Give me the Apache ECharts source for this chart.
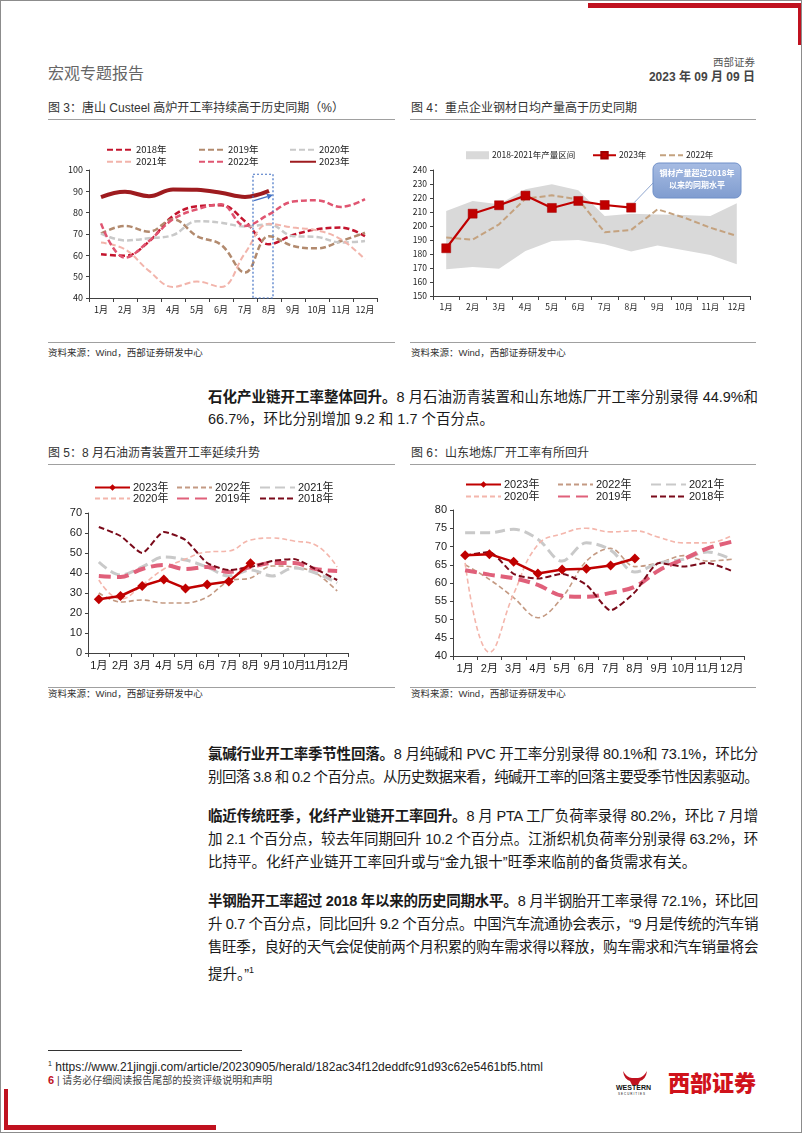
<!DOCTYPE html>
<html><head><meta charset="utf-8">
<script src="https://cdn.jsdelivr.net/npm/echarts@6/dist/echarts.min.js"></script>
<style>
body{margin:0;background:#fff;}
#page{position:relative;width:802px;height:1133px;overflow:hidden;background:#fff;box-sizing:border-box;border:1px solid #8c8c8c;font-family:"Liberation Sans","Noto Sans CJK SC",sans-serif;}
.abs{position:absolute;white-space:nowrap;}
.ct{font-size:12px;color:#333;line-height:14px;}
.rule{position:absolute;height:0;border-top:1px solid #a0a0a0;}
.src{font-size:9.5px;color:#333;line-height:12px;}
.chart{position:absolute;}
.ln{position:absolute;left:207px;width:550px;font-size:14.5px;line-height:23px;color:#1a1a1a;text-align:justify;text-align-last:justify;white-space:normal;}
.ln.last{text-align-last:left;}
.ln b{font-weight:700;}
</style></head>
<body><div id="page">
<!-- header -->
<div class="abs" style="left:587px;top:2px;width:214px;height:5px;background:#c0111f"></div>
<div class="abs" style="left:797px;top:2px;width:4px;height:42px;background:#c0111f"></div>
<div class="abs" style="left:47px;top:63px;font-size:16px;color:#666;line-height:20px;">宏观专题报告</div>
<div class="abs" style="right:46px;top:55px;font-size:10.5px;color:#555;line-height:13px;">西部证券</div>
<div class="abs" style="right:46px;top:69px;font-size:12px;color:#444;font-weight:700;line-height:14px;">2023 年 09 月 09 日</div>

<!-- fig 3 -->
<div class="abs ct" style="left:47px;top:100px;">图 3：唐山 Custeel 高炉开工率持续高于历史同期（%）</div>
<div class="rule" style="left:47px;top:118px;width:347px;"></div>
<div id="c1" class="chart" style="left:40px;top:125px;width:360px;height:215px;"></div>
<div class="rule" style="left:47px;top:341px;width:347px;"></div>
<div class="abs src" style="left:47px;top:346px;">资料来源：Wind，西部证券研发中心</div>

<!-- fig 4 -->
<div class="abs ct" style="left:410px;top:100px;">图 4：重点企业钢材日均产量高于历史同期</div>
<div class="rule" style="left:409px;top:118px;width:346px;"></div>
<div id="c2" class="chart" style="left:400px;top:125px;width:380px;height:215px;"></div>
<div class="rule" style="left:409px;top:341px;width:346px;"></div>
<div class="abs src" style="left:410px;top:346px;">资料来源：Wind，西部证券研发中心</div>

<!-- paragraph 1 -->
<div class="ln" style="top:384.5px;"><b>石化产业链开工率整体回升。</b>8 月石油沥青装置和山东地炼厂开工率分别录得 44.9%和</div>
<div class="ln last" style="top:406.5px;">66.7%，环比分别增加 9.2 和 1.7 个百分点。</div>

<!-- fig 5 -->
<div class="abs ct" style="left:47px;top:445px;">图 5：8 月石油沥青装置开工率延续升势</div>
<div class="rule" style="left:47px;top:463px;width:347px;"></div>
<div id="c3" class="chart" style="left:40px;top:470px;width:360px;height:215px;"></div>
<div class="rule" style="left:47px;top:686px;width:347px;"></div>
<div class="abs src" style="left:47px;top:687px;">资料来源：Wind，西部证券研发中心</div>

<!-- fig 6 -->
<div class="abs ct" style="left:410px;top:445px;">图 6：山东地炼厂开工率有所回升</div>
<div class="rule" style="left:409px;top:463px;width:346px;"></div>
<div id="c4" class="chart" style="left:400px;top:470px;width:380px;height:215px;"></div>
<div class="rule" style="left:409px;top:686px;width:346px;"></div>
<div class="abs src" style="left:410px;top:687px;">资料来源：Wind，西部证券研发中心</div>

<!-- paragraphs -->
<div class="ln" style="top:741.5px;"><b>氯碱行业开工率季节性回落。</b>8 月纯碱和 PVC 开工率分别录得 80.1%和 73.1%，环比分</div>
<div class="ln" style="top:764.5px;">别回落 3.8 和 0.2 个百分点。从历史数据来看，纯碱开工率的回落主要受季节性因素驱动。</div>

<div class="ln" style="top:803.5px;"><b>临近传统旺季，化纤产业链开工率回升。</b>8 月 PTA 工厂负荷率录得 80.2%，环比 7 月增</div>
<div class="ln" style="top:826.5px;">加 2.1 个百分点，较去年同期回升 10.2 个百分点。江浙织机负荷率分别录得 63.2%，环</div>
<div class="ln last" style="top:849.5px;">比持平。化纤产业链开工率回升或与“金九银十”旺季来临前的备货需求有关。</div>

<div class="ln" style="top:888.5px;"><b>半钢胎开工率超过 2018 年以来的历史同期水平。</b>8 月半钢胎开工率录得 72.1%，环比回</div>
<div class="ln" style="top:911.5px;">升 0.7 个百分点，同比回升 9.2 个百分点。中国汽车流通协会表示，“9 月是传统的汽车销</div>
<div class="ln" style="top:934.5px;">售旺季，良好的天气会促使前两个月积累的购车需求得以释放，购车需求和汽车销量将会</div>
<div class="ln last" style="top:957.5px;">提升。”<sup style="font-size:9px;">1</sup></div>

<!-- footer -->
<div class="rule" style="left:47px;top:1049px;width:194px;border-top-color:#333;"></div>
<div class="abs" style="left:47px;top:1056px;font-size:12px;color:#222;line-height:14px;"><sup style="font-size:7px;">1</sup> https://www.21jingji.com/article/20230905/herald/182ac34f12deddfc91d93c62e5461bf5.html</div>
<div class="abs" style="left:47px;top:1073px;font-size:10px;color:#444;line-height:13px;"><span style="color:#c0111f;font-weight:700;font-size:11px;">6</span> | 请务必仔细阅读报告尾部的投资评级说明和声明</div>
<div class="abs" style="left:617px;top:1068px;width:34px;height:26px;">
  <svg width="34" height="26" viewBox="0 0 34 26"><path d="M5 2 Q9 9 14 9 L20 9 Q25 9 29 2 Q28 10 22 12 L20 16 L14 16 L12 12 Q6 10 5 2 Z" fill="#c0111f"/></svg>
</div>
<div class="abs" style="left:615px;top:1083px;font-size:7px;font-weight:700;color:#111;letter-spacing:0px;line-height:8px;">WESTERN</div>
<div class="abs" style="left:617px;top:1091px;font-size:3px;color:#111;letter-spacing:1px;line-height:4px;">SECURITIES</div>
<div class="abs" style="left:667px;top:1068px;font-size:22px;font-weight:900;color:#d0121b;line-height:24px;font-family:'Noto Sans CJK SC';">西部证券</div>
<div class="abs" style="left:3px;top:1088px;width:4px;height:40px;background:#c0111f"></div>
<div class="abs" style="left:3px;top:1124px;width:212px;height:5px;background:#c0111f"></div>
</div>

<script>
// ---------------- data ----------------
const months = ['1月','2月','3月','4月','5月','6月','7月','8月','9月','10月','11月','12月'];

// Fig 3: 唐山 Custeel 高炉开工率 (%)
const f3_2018 = [60.5, 59.8, 66.5, 78.5, 83, 83.5, 76, 65.2, 69.5, 72.2, 73, 69];
const f3_2019 = [70.2, 73.8, 71.1, 76.9, 69, 65, 51.9, 69, 64.4, 63.3, 66.7, 70.6];
const f3_2020 = [70.2, 67, 68, 69.5, 76, 75.3, 73.5, 74.5, 69, 68.6, 66, 66.7];
const f3_2021 = [66, 62.8, 52.7, 45.2, 47.7, 45.2, 61, 74.8, 73, 71.7, 67.5, 58.1];
const f3_2022 = [75, 58.9, 66.7, 76.9, 81.6, 83.9, 73.8, 79.2, 85.2, 85.8, 82.7, 86.3];
const f3_2023 = [87.3, 89.8, 87.7, 90.9, 90.7, 89.3, 87.4, 90.2];

// Fig 4: 重点企业钢材日均产量
const f4_bandLow  = [169.1, 170.7, 169.5, 182.2, 189.3, 190, 186.9, 181.7, 186, 182.6, 179.3, 172.6];
const f4_bandHigh = [210.7, 217.9, 215.5, 226.2, 229.8, 225.5, 207.2, 208.8, 208.3, 207.9, 207.2, 216.2];
const f4_2023 = [184.1, 208.8, 214.8, 221.7, 212.9, 217.9, 215, 213.1];
const f4_2022 = [191.7, 190.3, 201.2, 219.5, 221.9, 219, 195.5, 197.2, 211.9, 206, 198.8, 192.9];

// Fig 5: 石油沥青装置开工率
const f5_2023 = [26.9, 28.5, 33.5, 36.8, 32.3, 34.3, 35.7, 44.9];
const f5_2022 = [30, 25.5, 26.5, 25, 25, 28, 36, 37.5, 43.5, 43, 40, 31];
const f5_2021 = [45.5, 39, 43, 48, 46.5, 43, 38.5, 41.5, 38.5, 42.5, 40, 35];
const f5_2020 = [36.5, 27, 34, 42, 47, 50.5, 51, 56.5, 57.5, 56, 54, 43];
const f5_2019 = [38.5, 38, 42, 44, 42, 43, 40.5, 43, 45, 45, 42, 41];
const f5_2018 = [63, 58.5, 50, 60.5, 56.5, 45, 41.5, 43, 46, 47, 42, 36.5];

// Fig 6: 山东地炼厂开工率
const f6_2023 = [67.6, 67.9, 65.8, 62.6, 63.7, 63.9, 64.8, 66.7];
const f6_2022 = [65, 61, 56, 50.5, 56, 66, 69.5, 64.5, 65.5, 67.5, 66, 66.5];
const f6_2021 = [73.8, 73.8, 74.7, 72, 66, 71, 69, 63, 65.5, 66.5, 68.5, 66.5];
const f6_2020 = [65.5, 41, 57, 70.5, 73.5, 75, 74, 74.3, 72.5, 71, 71, 73];
const f6_2019 = [63.5, 62.3, 61.3, 59.5, 56.5, 56.2, 57.3, 59, 63.5, 66.5, 69.5, 71.3];
const f6_2018 = [67.5, 68.5, 62.5, 61.2, 62.5, 59.5, 52.5, 57.5, 65.5, 64.5, 65.5, 63.3];

// ---------------- helpers ----------------
const NARROW = '"Liberation Sans Narrow","Noto Sans CJK SC",sans-serif';
const ARIAL = '"Liberation Sans","Noto Sans CJK SC",sans-serif';
function ln(name, data, color, width, dash, smooth, extra) {
  return Object.assign({
    type: 'line', name: name, data: data, smooth: smooth, symbol: 'none',
    lineStyle: { color: color, width: width, type: dash || 'solid' },
    itemStyle: { color: color }, emphasis: { disabled: true }, animation: false
  }, extra || {});
}
function xAx(fs, ff) {
  return { type: 'category', data: months, boundaryGap: true,
    axisLine: { lineStyle: { color: '#404040', width: 1 } },
    axisTick: { show: true, length: 4, lineStyle: { color: '#404040' } },
    axisLabel: { color: '#222', fontSize: fs, fontFamily: ff, margin: 7, interval: 0 },
    splitLine: { show: false } };
}
function yAx(min, max, iv, fs, ff) {
  return { type: 'value', min: min, max: max, interval: iv,
    axisLine: { show: true, lineStyle: { color: '#404040', width: 1 } },
    axisTick: { show: true, length: 3, lineStyle: { color: '#404040' } },
    axisLabel: { color: '#222', fontSize: fs, fontFamily: ff, margin: 6 },
    splitLine: { show: false } };
}
// legend for one item; symbol hidden unless withSymbol
function leg(name, left, top, w, h, fs, ff, withSymbol, extra) {
  const o = { data: [name], left: left, top: top, padding: 0, itemWidth: w, itemHeight: h,
    itemGap: 0, selectedMode: false, textStyle: { fontSize: fs, fontFamily: ff, color: '#222', padding: [0, 0, 0, -2] } };
  if (!withSymbol) o.itemStyle = { opacity: 0, color: 'rgba(0,0,0,0)', borderWidth: 0 };
  return Object.assign(o, extra || {});
}

// ---------------- Fig 3 ----------------
const ch1 = echarts.init(document.getElementById('c1'), null, { renderer: 'canvas' });
const c3 = { c18: '#c3142d', c19: '#b28a6e', c20: '#c9c9c9', c21: '#f2b4ab', c22: '#e05571', c23: '#9e1b1f' };
ch1.setOption({
  animation: false,
  grid: { left: 48, right: 24, top: 44, bottom: 43 },
  xAxis: xAx(9, NARROW),
  yAxis: yAx(40, 100, 10, 9, NARROW),
  legend: [
    leg('2018年', 65, 19, 26, 8, 9.5, NARROW), leg('2019年', 157, 19, 26, 8, 9.5, NARROW), leg('2020年', 248, 19, 26, 8, 9.5, NARROW),
    leg('2021年', 65, 31, 26, 8, 9.5, NARROW), leg('2022年', 157, 31, 26, 8, 9.5, NARROW), leg('2023年', 248, 31, 26, 8, 9.5, NARROW)
  ],
  series: [
    ln('2018年', f3_2018, c3.c18, 2.5, [6, 3], 0.4),
    ln('2019年', f3_2019, c3.c19, 2.5, [6, 3], 0.4),
    ln('2020年', f3_2020, c3.c20, 2.5, [6, 3], 0.4),
    ln('2021年', f3_2021, c3.c21, 2, [6, 3], 0.4),
    ln('2022年', f3_2022, c3.c22, 2.5, [6, 3], 0.4),
    ln('2023年', f3_2023, c3.c23, 4, 'solid', 0.4)
  ]
});
(function () {
  const p = (x, y) => ch1.convertToPixel({ xAxisIndex: 0, yAxisIndex: 0 }, [x, y]);
  const top = p('8月', 98), bot = p('8月', 40);
  const s = p('8月', 85.6), e = p('8月', 88.4);
  const sx = s[0] - 15, sy = s[1], ex = e[0] + 4, ey = e[1];
  const dx = ex - sx, dy = ey - sy, L = Math.hypot(dx, dy), ux = dx / L, uy = dy / L;
  const hl = 6, hw = 3;
  const bx = ex - ux * hl, by = ey - uy * hl;
  ch1.setOption({ graphic: [
    { type: 'rect', shape: { x: top[0] - 16, y: top[1], width: 20, height: bot[1] - top[1] },
      style: { fill: 'none', stroke: '#4472c4', lineWidth: 1.2, lineDash: [2, 2] }, z: 100 },
    { type: 'line', shape: { x1: sx, y1: sy, x2: bx, y2: by }, style: { stroke: '#4472c4', lineWidth: 1.3 }, z: 100 },
    { type: 'polygon', shape: { points: [[ex, ey], [bx - uy * hw, by + ux * hw], [bx + uy * hw, by - ux * hw]] },
      style: { fill: '#4472c4' }, z: 100 }
  ] });
})();

// ---------------- Fig 4 ----------------
const ch2 = echarts.init(document.getElementById('c2'), null, { renderer: 'canvas' });
const bandDiff = f4_bandHigh.map((v, i) => +(v - f4_bandLow[i]).toFixed(1));
ch2.setOption({
  animation: false,
  grid: { left: 32, right: 31, top: 44, bottom: 45 },
  xAxis: xAx(8.5, NARROW),
  yAxis: yAx(150, 240, 10, 8.5, NARROW),
  legend: [
    leg('2018-2021年产量区间', 65, 25, 23, 8, 8.5, NARROW, true, { data: [{ name: '2018-2021年产量区间', icon: 'rect' }] }),
    leg('2023年', 191, 25, 23, 8, 8.5, NARROW, true),
    leg('2022年', 258, 25, 23, 8, 8.5, NARROW)
  ],
  series: [
    ln('band-low', f4_bandLow, '#d9d9d9', 0, 'solid', false, { stack: 'band', lineStyle: { width: 0, opacity: 0 } }),
    ln('2018-2021年产量区间', bandDiff, '#d9d9d9', 0, 'solid', false,
      { stack: 'band', lineStyle: { width: 0, opacity: 0 }, areaStyle: { color: '#d9d9d9', opacity: 1 } }),
    ln('2022年', f4_2022, '#c4a27f', 2, [6, 3], false),
    ln('2023年', f4_2023, '#c00000', 2.2, 'solid', false,
      { symbol: 'rect', symbolSize: 9, showAllSymbol: true, itemStyle: { color: '#c00000', borderColor: '#a00000', borderWidth: 0.5 } })
  ]
});
(function () {
  const pt = ch2.convertToPixel({ seriesIndex: 3 }, ['8月', f4_2023[7]]);
  const bx = 252, by = 37, bw = 88, bh = 35;
  ch2.setOption({ graphic: [
    { type: 'line', shape: { x1: pt[0] + 3, y1: pt[1] - 5, x2: bx + 1, y2: by + 19 }, style: { stroke: '#8fa6cf', lineWidth: 1 }, z: 100 },
    { type: 'rect', shape: { x: bx, y: by, width: bw, height: bh, r: 6 },
      style: { fill: new echarts.graphic.LinearGradient(0, 0, 0, 1, [{ offset: 0, color: '#a7bce3' }, { offset: 1, color: '#7f9ccf' }]),
        stroke: '#6f8fc8', lineWidth: 1 }, z: 100 },
    { type: 'text', style: { text: '钢材产量超过2018年', x: bx + bw / 2, y: by + 10, textAlign: 'center', textVerticalAlign: 'middle',
      fill: '#fff', font: 'bold 8px "Noto Sans CJK SC"' }, z: 101 },
    { type: 'text', style: { text: '以来的同期水平', x: bx + bw / 2, y: by + 22, textAlign: 'center', textVerticalAlign: 'middle',
      fill: '#fff', font: 'bold 8px "Noto Sans CJK SC"' }, z: 101 }
  ] });
})();

// ---------------- Fig 5 & 6 ----------------
const cc = { c23: '#c00000', c22: '#c49a83', c21: '#c9c9c9', c20: '#f4b6ac', c19: '#e0607a', c18: '#7a0a1a' };
function seriesSet(d23, d22, d21, d20, d19, d18) {
  return [
    ln('2022年', d22, cc.c22, 1.6, [5, 3], 0.35),
    ln('2021年', d21, cc.c21, 3, [10, 5], 0.35),
    ln('2020年', d20, cc.c20, 1.6, [5, 3], 0.45),
    ln('2019年', d19, cc.c19, 4, [12, 6], 0.35),
    ln('2018年', d18, cc.c18, 2, [6, 3], 0.2),
    ln('2023年', d23, cc.c23, 2.5, 'solid', false,
      { symbol: 'diamond', symbolSize: 10, showAllSymbol: true, itemStyle: { color: cc.c23 } })
  ];
}
function legSet(l1, l2, l3, t1, t2) {
  return [
    leg('2023年', l1, t1, 35, 8, 11, ARIAL, true), leg('2022年', l2, t1, 35, 8, 11, ARIAL), leg('2021年', l3, t1, 35, 8, 11, ARIAL),
    leg('2020年', l1, t2, 35, 8, 11, ARIAL), leg('2019年', l2, t2, 35, 8, 11, ARIAL), leg('2018年', l3, t2, 35, 8, 11, ARIAL)
  ];
}
const ch3 = echarts.init(document.getElementById('c3'), null, { renderer: 'canvas' });
ch3.setOption({
  animation: false,
  grid: { left: 47, right: 53, top: 42, bottom: 33 },
  xAxis: xAx(11, ARIAL),
  yAxis: yAx(0, 70, 10, 11, ARIAL),
  legend: legSet(53, 135, 218, 11, 22),
  series: seriesSet(f5_2023, f5_2022, f5_2021, f5_2020, f5_2019, f5_2018)
});
const ch4 = echarts.init(document.getElementById('c4'), null, { renderer: 'canvas' });
ch4.setOption({
  animation: false,
  grid: { left: 52, right: 37, top: 39, bottom: 30 },
  xAxis: xAx(11, ARIAL),
  yAxis: yAx(40, 80, 5, 11, ARIAL),
  legend: legSet(64, 156, 249, 8, 20),
  series: seriesSet(f6_2023, f6_2022, f6_2021, f6_2020, f6_2019, f6_2018)
});

// ---------------- fit justified text lines ----------------
document.querySelectorAll('.ln').forEach(function (el) {
  const probe = document.createElement('span');
  probe.style.cssText = 'position:absolute;visibility:hidden;white-space:nowrap;font-size:14.5px;font-family:inherit;';
  probe.innerHTML = el.innerHTML;
  el.parentNode.appendChild(probe);
  const w = probe.getBoundingClientRect().width;
  const n = probe.textContent.length;
  probe.remove();
  if (w > 549) el.style.letterSpacing = (-(w - 548) / n).toFixed(3) + 'px';
});
</script>
</body></html>
